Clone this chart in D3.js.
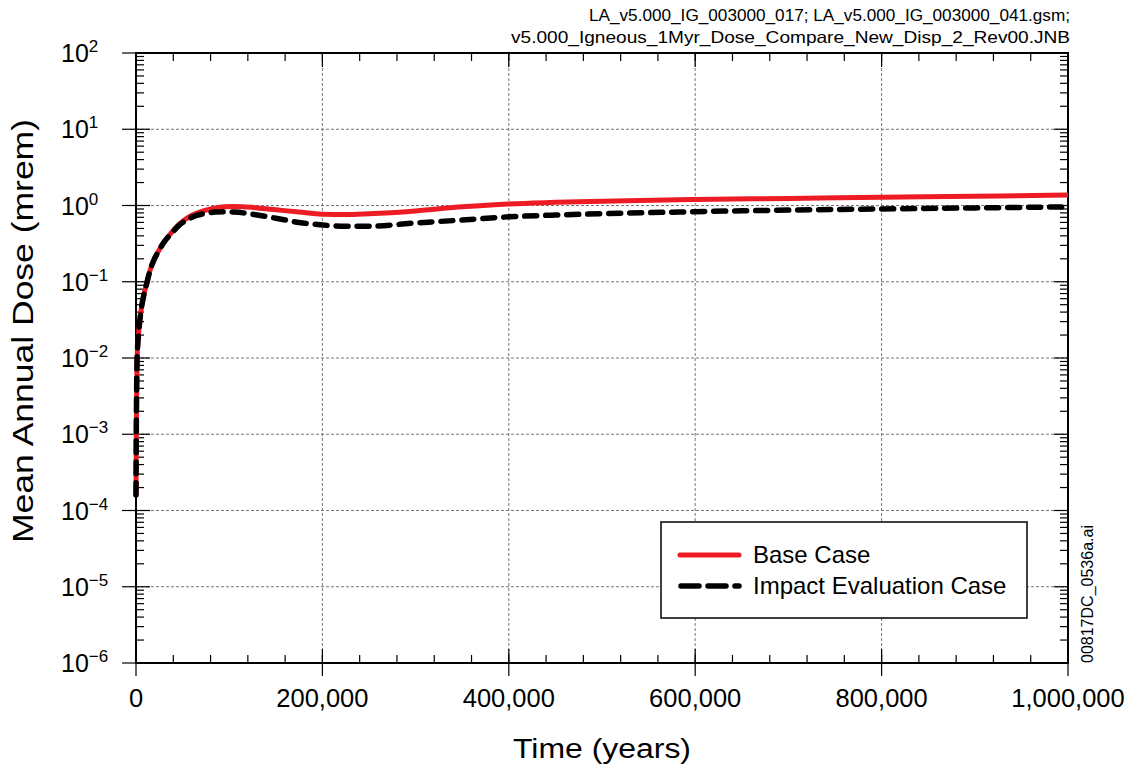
<!DOCTYPE html>
<html>
<head>
<meta charset="utf-8">
<script src="https://cdn.jsdelivr.net/npm/d3@7"></script>
<style>
  body { margin: 0; background: #fff; }
  text { font-family: "Liberation Sans", Arial, Helvetica, sans-serif; fill: #000; }
</style>
</head>
<body>
<script>
// time in years
const years = [0, 300, 700, 1200, 2500, 4000, 6000, 8500, 11500, 15000, 19000, 24000, 30000, 38000, 47000, 56000, 65000, 75000, 85000, 95000, 105000, 115000, 130000, 150000, 175000, 200000, 225000, 250000, 300000, 350000, 400000, 450000, 500000, 600000, 700000, 800000, 900000, 1000000]
// mean annual dose (mrem)
const baseCase = [1.6e-4, 1e-3, 4e-3, 0.010, 0.019, 0.03, 0.047, 0.068, 0.095, 0.14, 0.19, 0.25, 0.33, 0.44, 0.58, 0.70, 0.79, 0.87, 0.93, 0.96, 0.97, 0.96, 0.93, 0.88, 0.82, 0.77, 0.76, 0.78, 0.85, 0.96, 1.05, 1.10, 1.14, 1.20, 1.24, 1.28, 1.32, 1.37]
const impactCase = [1.6e-4, 1e-3, 4e-3, 0.010, 0.019, 0.03, 0.047, 0.068, 0.095, 0.14, 0.19, 0.25, 0.33, 0.43, 0.56, 0.66, 0.74, 0.79, 0.82, 0.83, 0.82, 0.80, 0.75, 0.68, 0.60, 0.555, 0.535, 0.535, 0.59, 0.645, 0.71, 0.75, 0.78, 0.83, 0.87, 0.90, 0.93, 0.96]

const xTicks = [0, 200000, 400000, 600000, 800000, 1000000]
const xMinor = d3.range(0, 1000001, 40000)
const yExps = [-6, -5, -4, -3, -2, -1, 0, 1, 2]
const seriesNames = ['Base Case', 'Impact Evaluation Case']
const noteLines = ['LA_v5.000_IG_003000_017; LA_v5.000_IG_003000_041.gsm;', 'v5.000_Igneous_1Myr_Dose_Compare_New_Disp_2_Rev00.JNB']

const W = 1131, H = 773
const pL = 136, pR = 1068, pT = 53, pB = 663

const svg = d3.select('body').append('svg').attr('width', W).attr('height', H)

const x = d3.scaleLinear().domain([0, 1000000]).range([pL, pR])
const y = d3.scaleLog().domain([1e-6, 1e2]).range([pB, pT])

const yMajor = yExps.map(e => Math.pow(10, e))
const yMinor = []
yExps.slice(0, -1).forEach(e => { for (let k = 2; k <= 9; k++) yMinor.push(k * Math.pow(10, e)) })

// grid
const grid = svg.append('g').attr('stroke', '#777').attr('stroke-width', 1).attr('stroke-dasharray', '3,2')
grid.selectAll('.gx').data(xTicks.slice(1, -1)).enter().append('line')
  .attr('x1', d => x(d)).attr('x2', d => x(d)).attr('y1', pT).attr('y2', pB)
grid.selectAll('.gy').data(yMajor.slice(1, -1)).enter().append('line')
  .attr('x1', pL).attr('x2', pR).attr('y1', d => y(d)).attr('y2', d => y(d))

// ticks
const ticks = svg.append('g').attr('stroke', '#000').attr('stroke-width', 1.2)
// bottom
ticks.selectAll('.bm').data(xMinor).enter().append('line')
  .attr('x1', d => x(d)).attr('x2', d => x(d)).attr('y1', pB).attr('y2', pB - 8)
ticks.selectAll('.bM').data(xTicks).enter().append('line')
  .attr('x1', d => x(d)).attr('x2', d => x(d)).attr('y1', pB - 14).attr('y2', pB + 13)
// top
ticks.selectAll('.tm').data(xMinor).enter().append('line')
  .attr('x1', d => x(d)).attr('x2', d => x(d)).attr('y1', pT).attr('y2', pT + 8)
ticks.selectAll('.tM').data(xTicks).enter().append('line')
  .attr('x1', d => x(d)).attr('x2', d => x(d)).attr('y1', pT).attr('y2', pT + 14)
// left
ticks.selectAll('.lm').data(yMinor).enter().append('line')
  .attr('x1', pL).attr('x2', pL + 8).attr('y1', d => y(d)).attr('y2', d => y(d))
ticks.selectAll('.lM').data(yMajor).enter().append('line')
  .attr('x1', pL - 14).attr('x2', pL + 14).attr('y1', d => y(d)).attr('y2', d => y(d))
// right
ticks.selectAll('.rm').data(yMinor).enter().append('line')
  .attr('x1', pR).attr('x2', pR - 8).attr('y1', d => y(d)).attr('y2', d => y(d))
ticks.selectAll('.rM').data(yMajor).enter().append('line')
  .attr('x1', pR).attr('x2', pR - 14).attr('y1', d => y(d)).attr('y2', d => y(d))

// frame
svg.append('rect').attr('x', pL).attr('y', pT).attr('width', pR - pL).attr('height', pB - pT)
  .attr('fill', 'none').attr('stroke', '#000').attr('stroke-width', 2)

// y tick labels
const yl = svg.selectAll('.ylab').data(yExps).enter().append('text')
  .attr('x', 61).attr('y', d => y(Math.pow(10, d)) + 9)
  .style('font-size', '25px')
yl.append('tspan').text('10')
yl.append('tspan').attr('dy', -10).style('font-size', '17px')
  .text(d => d < 0 ? '\u2212' + (-d) : String(d))

// x tick labels
svg.selectAll('.xlab').data(xTicks).enter().append('text')
  .attr('x', d => x(d)).attr('y', 707).attr('text-anchor', 'middle')
  .style('font-size', '25.5px').text(d => d3.format(',')(d))

// axis titles
svg.append('text').attr('x', (pL + pR) / 2).attr('y', 758).attr('text-anchor', 'middle')
  .attr('textLength', 178).attr('lengthAdjust', 'spacingAndGlyphs')
  .style('font-size', '27px').text('Time (years)')
svg.append('text').attr('transform', 'translate(33,331) rotate(-90)').attr('text-anchor', 'middle')
  .attr('textLength', 424).attr('lengthAdjust', 'spacingAndGlyphs')
  .style('font-size', '29px').text('Mean Annual Dose (mrem)')

// notes
svg.selectAll('.note').data(noteLines).enter().append('text')
  .attr('x', 1070).attr('y', (d, i) => 21 + i * 22).attr('text-anchor', 'end')
  .attr('textLength', (d, i) => i === 0 ? 481 : 559).attr('lengthAdjust', 'spacingAndGlyphs')
  .style('font-size', '16.5px').text(d => d)
svg.append('text').attr('transform', 'translate(1093,663) rotate(-90)')
  .attr('textLength', 138).attr('lengthAdjust', 'spacingAndGlyphs')
  .style('font-size', '17px').text('00817DC_0536a.ai')

// curves
const line = d3.line().x((d, i) => x(years[i])).y(d => y(d)).curve(d3.curveMonotoneX)
svg.append('path').datum(baseCase).attr('d', line)
  .attr('fill', 'none').attr('stroke', '#ed1c24').attr('stroke-width', 5)
svg.append('path').datum(impactCase).attr('d', line)
  .attr('fill', 'none').attr('stroke', '#000').attr('stroke-width', 5.5)
  .attr('stroke-dasharray', '12,9').attr('stroke-linecap', 'round')

// legend
const lg = svg.append('g')
lg.append('rect').attr('x', 661).attr('y', 522).attr('width', 366).attr('height', 96)
  .attr('fill', '#fff').attr('stroke', '#000').attr('stroke-width', 1.5)
lg.append('line').attr('x1', 680).attr('x2', 739).attr('y1', 555).attr('y2', 555)
  .attr('stroke', '#ed1c24').attr('stroke-width', 5).attr('stroke-linecap', 'round')
lg.append('line').attr('x1', 681).attr('x2', 739).attr('y1', 586).attr('y2', 586)
  .attr('stroke', '#000').attr('stroke-width', 5.5).attr('stroke-linecap', 'round')
  .attr('stroke-dasharray', '18,9')
lg.selectAll('.lt').data(seriesNames).enter().append('text')
  .attr('x', 753).attr('y', (d, i) => 563 + i * 31)
  .style('font-size', '24px').text(d => d)
</script>
</body>
</html>
